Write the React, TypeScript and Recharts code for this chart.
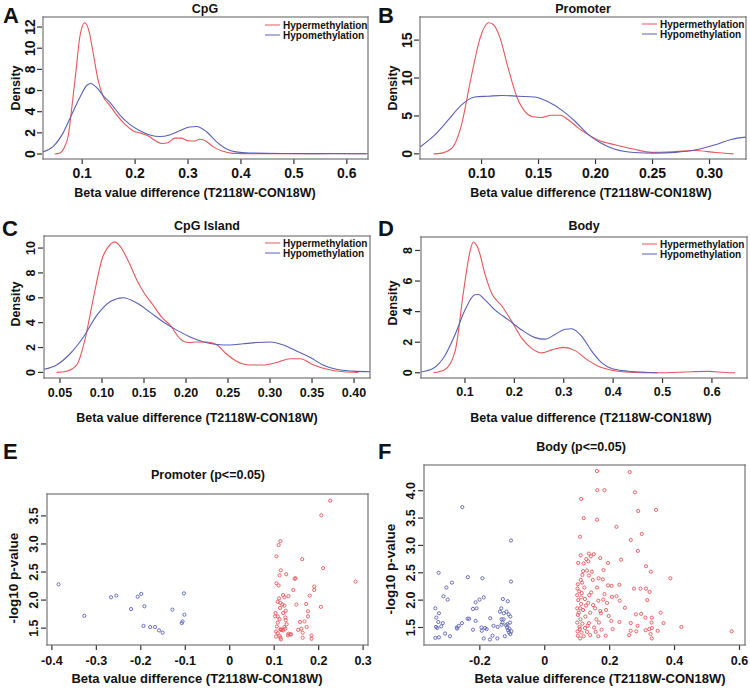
import React from "react";
import { LineChart, Line, ScatterChart, Scatter, XAxis, YAxis, Legend } from "recharts";

const FONT = "'Liberation Sans', Arial, Helvetica, sans-serif";
const RED = "#e5565b";
const BLUE = "#5a60b5";
const BOX = "#767676";
const TICK = "#333";
const INK = "#111";

// A - CpG density
const cpgHyperX = [0.048, 0.058, 0.066, 0.074, 0.080, 0.088, 0.096, 0.105, 0.113, 0.121, 0.130, 0.140, 0.152, 0.165, 0.181, 0.196, 0.212, 0.225, 0.237, 0.250, 0.262, 0.275, 0.287, 0.300, 0.313, 0.322, 0.331, 0.347, 0.363, 0.385, 0.448, 0.510, 0.574, 0.636];
const cpgHyperY = [0, 0.1, 0.6, 1.8, 4.2, 7.7, 11.2, 12.4, 11.6, 9.5, 7.0, 5.4, 4.6, 3.7, 2.8, 2.2, 1.95, 1.7, 1.3, 1.0, 1.07, 1.5, 1.5, 1.26, 1.23, 1.4, 1.3, 0.7, 0.3, 0.06, 0.02, 0.02, 0.05, 0.02];
const cpgHypoX = [0.026, 0.045, 0.064, 0.080, 0.096, 0.109, 0.116, 0.127, 0.140, 0.152, 0.171, 0.190, 0.209, 0.228, 0.247, 0.265, 0.284, 0.303, 0.316, 0.335, 0.353, 0.372, 0.391, 0.416, 0.479, 0.574, 0.640];
const cpgHypoY = [0.2, 0.7, 2.0, 3.7, 5.4, 6.5, 6.67, 6.3, 5.5, 4.9, 3.7, 2.8, 2.2, 1.8, 1.65, 1.8, 2.2, 2.55, 2.6, 2.1, 1.2, 0.5, 0.2, 0.1, 0.05, 0.03, 0.02];

// B - Promoter density
const promHyperX = [0.058, 0.065, 0.074, 0.082, 0.091, 0.099, 0.106, 0.110, 0.116, 0.123, 0.131, 0.138, 0.145, 0.153, 0.161, 0.169, 0.176, 0.185, 0.194, 0.202, 0.217, 0.234, 0.249, 0.270, 0.287, 0.305, 0.321];
const promHyperY = [0, 0.1, 0.75, 3.6, 10.2, 15.4, 17.3, 17.1, 15.4, 11.5, 7.5, 5.6, 4.9, 4.8, 5.1, 5.1, 4.5, 3.4, 2.5, 1.84, 1.2, 0.6, 0.2, 0.3, 0.44, 0.18, 0];
const promHypoX = [0.046, 0.059, 0.071, 0.082, 0.094, 0.106, 0.118, 0.132, 0.147, 0.158, 0.170, 0.182, 0.194, 0.205, 0.217, 0.234, 0.252, 0.270, 0.287, 0.305, 0.319, 0.332];
const promHypoY = [0.9, 2.5, 4.5, 6.4, 7.5, 7.6, 7.7, 7.6, 7.5, 6.9, 5.8, 4.3, 2.5, 1.4, 0.6, 0.18, 0.1, 0.2, 0.5, 1.2, 1.9, 2.2];

// C - CpG Island density
const islandHyperX = [0.046, 0.058, 0.070, 0.080, 0.090, 0.100, 0.110, 0.115, 0.121, 0.131, 0.141, 0.151, 0.161, 0.171, 0.181, 0.193, 0.203, 0.213, 0.225, 0.237, 0.248, 0.260, 0.276, 0.292, 0.308, 0.324, 0.336, 0.352, 0.367, 0.387, 0.405];
const islandHyperY = [0, 0.1, 0.6, 2.7, 6.05, 9.1, 10.3, 10.5, 10.2, 9.0, 7.5, 6.3, 5.4, 4.45, 3.8, 2.7, 2.4, 2.45, 2.45, 2.2, 1.5, 0.9, 0.6, 0.6, 0.8, 1.1, 1.1, 0.6, 0.27, 0.05, 0];
const islandHypoX = [0.031, 0.046, 0.062, 0.078, 0.094, 0.110, 0.125, 0.141, 0.157, 0.173, 0.189, 0.205, 0.221, 0.237, 0.252, 0.268, 0.284, 0.300, 0.316, 0.332, 0.348, 0.363, 0.379, 0.399, 0.419];
const islandHypoY = [0.25, 0.6, 1.5, 2.85, 4.6, 5.7, 6.0, 5.6, 4.85, 4.05, 3.4, 2.85, 2.45, 2.25, 2.2, 2.3, 2.4, 2.45, 2.2, 1.7, 1.2, 0.6, 0.25, 0.1, 0.05];

// D - Body density
const bodyHyperX = [0.036, 0.059, 0.080, 0.097, 0.110, 0.117, 0.127, 0.141, 0.154, 0.174, 0.195, 0.215, 0.235, 0.255, 0.276, 0.299, 0.323, 0.347, 0.370, 0.397, 0.431, 0.492, 0.559, 0.593, 0.627, 0.647];
const bodyHyperY = [0, 0.2, 1.4, 5.3, 7.9, 8.55, 8.1, 6.4, 5.2, 4.4, 3.35, 2.27, 1.6, 1.3, 1.5, 1.66, 1.45, 0.86, 0.43, 0.17, 0.04, 0, 0.07, 0.09, 0.02, 0];
const bodyHypoX = [0.010, 0.036, 0.059, 0.080, 0.100, 0.120, 0.127, 0.141, 0.161, 0.188, 0.215, 0.242, 0.262, 0.282, 0.303, 0.316, 0.336, 0.357, 0.377, 0.397, 0.431, 0.472, 0.490];
const bodyHypoY = [0.05, 0.3, 1.1, 2.5, 4.1, 5.1, 5.12, 4.75, 4.1, 3.46, 2.8, 2.3, 2.2, 2.5, 2.85, 2.88, 2.4, 1.4, 0.65, 0.28, 0.1, 0.02, 0];

// E - Promoter (p<=0.05) scatter
const promPHypoX = [-0.385, -0.327, -0.267, -0.255, -0.222, -0.207, -0.199, -0.192, -0.194, -0.179, -0.168, -0.159, -0.151, -0.129, -0.108, -0.106, -0.102, -0.103];
const promPHypoY = [2.28, 1.72, 2.05, 2.08, 1.84, 2.06, 2.11, 1.89, 1.54, 1.52, 1.52, 1.46, 1.42, 1.83, 1.59, 1.62, 1.74, 2.12];
const promPHyperX = [
  0.226, 0.206, 0.114, 0.110, 0.105, 0.163, 0.210, 0.115, 0.127, 0.112,
  0.146, 0.148, 0.283, 0.105, 0.110, 0.190, 0.190, 0.143, 0.120, 0.132,
  0.123, 0.180, 0.111, 0.108, 0.114, 0.172, 0.150, 0.118, 0.123, 0.205,
  0.113, 0.126, 0.176, 0.103, 0.120, 0.108, 0.102, 0.125, 0.176, 0.112,
  0.126, 0.158, 0.168, 0.108, 0.128, 0.106, 0.123, 0.173, 0.114, 0.115,
  0.120, 0.154, 0.161, 0.104, 0.108, 0.132, 0.131, 0.138, 0.164, 0.104,
  0.114, 0.115, 0.184, 0.184, 0.164, 0.112, 0.136, 0.125, 0.117,
];
const promPHyperY = [
  3.77, 3.51, 3.05, 2.98, 2.78, 2.73, 2.57, 2.53, 2.46, 2.44,
  2.38, 2.39, 2.33, 2.30, 2.26, 2.24, 2.18, 2.18, 2.09, 2.07,
  2.05, 2.08, 2.03, 1.97, 1.95, 1.93, 1.92, 1.92, 1.90, 1.88,
  1.86, 1.81, 1.80, 1.77, 1.77, 1.71, 1.71, 1.69, 1.71, 1.66,
  1.64, 1.61, 1.62, 1.60, 1.57, 1.53, 1.52, 1.52, 1.48, 1.47,
  1.46, 1.47, 1.49, 1.44, 1.41, 1.40, 1.37, 1.39, 1.42, 1.35,
  1.33, 1.30, 1.37, 1.31, 1.33, 1.36, 1.39, 1.49, 1.47,
];

// F - Body (p<=0.05) scatter
const bodyPHypoX = [
  -0.254, -0.104, -0.327, -0.237, -0.192, -0.104, -0.286, -0.303, -0.312, -0.299,
  -0.188, -0.201, -0.213, -0.129, -0.114, -0.337, -0.221, -0.210, -0.134, -0.138,
  -0.118, -0.326, -0.111, -0.106, -0.334, -0.238, -0.233, -0.168, -0.133, -0.127,
  -0.328, -0.314, -0.115, -0.107, -0.213, -0.255, -0.158, -0.133, -0.335, -0.331,
  -0.319, -0.265, -0.271, -0.195, -0.184, -0.179, -0.145, -0.119, -0.116, -0.109,
  -0.221, -0.194, -0.307, -0.292, -0.337, -0.326, -0.188, -0.169, -0.161, -0.146,
  -0.123, -0.110, -0.106, -0.103, -0.113, -0.270, -0.130, -0.126,
];
const bodyPHypoY = [
  3.70, 3.09, 2.50, 2.42, 2.40, 2.34, 2.32, 2.23, 2.07, 2.01,
  2.05, 2.01, 1.96, 2.02, 1.98, 1.85, 1.84, 1.85, 1.85, 1.79,
  1.79, 1.76, 1.74, 1.70, 1.68, 1.66, 1.66, 1.67, 1.65, 1.65,
  1.60, 1.58, 1.56, 1.59, 1.62, 1.58, 1.53, 1.55, 1.51, 1.49,
  1.52, 1.53, 1.50, 1.50, 1.49, 1.47, 1.51, 1.54, 1.50, 1.48,
  1.46, 1.44, 1.39, 1.34, 1.31, 1.32, 1.30, 1.28, 1.35, 1.30,
  1.34, 1.41, 1.38, 1.43, 1.45, 1.48, 1.59, 1.76,
];
const bodyPHyperX = [
  0.161, 0.262, 0.162, 0.184, 0.278, 0.112, 0.288, 0.120, 0.161, 0.221,
  0.299, 0.109, 0.265, 0.287, 0.111, 0.136, 0.151, 0.142, 0.171, 0.128,
  0.235, 0.103, 0.120, 0.134, 0.195, 0.312, 0.118, 0.130, 0.145, 0.181,
  0.116, 0.136, 0.166, 0.111, 0.148, 0.179, 0.115, 0.102, 0.195, 0.206,
  0.230, 0.101, 0.275, 0.295, 0.106, 0.114, 0.143, 0.100, 0.184, 0.207,
  0.221, 0.103, 0.124, 0.165, 0.180, 0.231, 0.112, 0.134, 0.149, 0.192,
  0.247, 0.100, 0.118, 0.171, 0.189, 0.140, 0.102, 0.125, 0.281, 0.297,
  0.110, 0.159, 0.205, 0.230, 0.100, 0.116, 0.136, 0.167, 0.265, 0.107,
  0.124, 0.152, 0.209, 0.286, 0.101, 0.113, 0.130, 0.157, 0.175, 0.265,
  0.282, 0.102, 0.120, 0.140, 0.165, 0.188, 0.260, 0.109, 0.105, 0.109,
  0.127, 0.155, 0.112, 0.108, 0.132, 0.173, 0.197, 0.137, 0.122, 0.161,
  0.343, 0.327, 0.387, 0.312, 0.323, 0.316, 0.357, 0.310, 0.330, 0.329,
  0.366, 0.421, 0.311, 0.322, 0.330, 0.348, 0.326, 0.330, 0.576,
];
const bodyPHyperY = [
  4.36, 4.34, 4.01, 4.01, 3.97, 3.85, 3.63, 3.50, 3.47, 3.34,
  3.21, 3.16, 3.10, 2.90, 2.82, 2.85, 2.84, 2.80, 2.77, 2.75,
  2.74, 2.68, 2.67, 2.71, 2.68, 2.62, 2.53, 2.54, 2.52, 2.55,
  2.46, 2.45, 2.40, 2.37, 2.37, 2.38, 2.32, 2.29, 2.27, 2.26,
  2.28, 2.21, 2.21, 2.21, 2.16, 2.13, 2.14, 2.09, 2.11, 2.06,
  2.07, 2.00, 2.02, 1.99, 2.01, 1.99, 1.93, 1.95, 1.91, 1.95,
  1.86, 1.85, 1.82, 1.80, 1.82, 1.77, 1.73, 1.70, 1.74, 1.75,
  1.65, 1.65, 1.62, 1.60, 1.59, 1.57, 1.58, 1.59, 1.58, 1.51,
  1.49, 1.50, 1.47, 1.53, 1.43, 1.41, 1.42, 1.42, 1.46, 1.44,
  1.43, 1.35, 1.34, 1.36, 1.34, 1.35, 1.36, 1.30, 1.77, 1.85,
  1.90, 1.85, 2.05, 1.47, 1.53, 1.76, 1.71, 2.09, 2.23, 2.23,
  3.65, 2.52, 2.40, 2.21, 2.15, 2.00, 1.77, 1.68, 1.68, 1.59,
  1.58, 1.51, 1.45, 1.47, 1.49, 1.44, 1.38, 1.30, 1.43,
];

type Pt = { x: number; y: number };
const zip = (xs: number[], ys: number[]): Pt[] => xs.map((x, i) => ({ x, y: ys[i] }));

const fmt0 = (v: number) => String(v);
const fmt1 = (v: number) => v.toFixed(1);
const fmt2 = (v: number) => v.toFixed(2);
const fmtSigned = (v: number) => (v === 0 ? "0" : v.toFixed(1));

// plot frames (left, top, right, bottom) in page pixels
const boxA = [43, 17, 368, 159];
const boxB = [420, 17, 746, 159];
const boxC = [44, 236, 370, 378];
const boxD = [421, 237, 747, 378];
const boxE = [47, 494, 368, 645];
const boxF = [424, 465, 745, 645];

// y tick: rotated label (R style) plus its tick mark
function YTick(props: any) {
  const { payload, size, fmt } = props;
  const x = Number(props.x);
  const y = Number(props.y);
  const cx = x - 5;
  return (
    <g>
      <rect x={x + 2} y={y - 0.6} width={5} height={1.2} fill={TICK} />
      <text x={cx} y={y} dy="0.36em" transform={`rotate(-90 ${cx} ${y})`} textAnchor="middle"
        fontSize={size} fontWeight={700} fontFamily={FONT} fill={INK}>
        {fmt(payload.value)}
      </text>
    </g>
  );
}

function XTick(props: any) {
  const { payload, size, fmt, margin } = props;
  const x = Number(props.x);
  const y = Number(props.y);
  const top = y - margin - 6;
  return (
    <g>
      <rect x={x - 0.6} y={top} width={1.2} height={5} fill={TICK} />
      <text x={x} y={y} dy="0.71em" textAnchor="middle" fontSize={size} fontWeight={700} fontFamily={FONT} fill={INK}>
        {fmt(payload.value)}
      </text>
    </g>
  );
}

function Ring(props: any) {
  const { cx, cy, color } = props;
  if (cx == null || cy == null) return null;
  return <circle cx={cx} cy={cy} r={1.6} fill="none" stroke={color} strokeWidth={0.9} />;
}

function LegendBox(props: any) {
  const items = props.payload || [];
  return (
    <svg width={112} height={22}>
      {items.map((it: any, i: number) => (
        <g key={it.value}>
          <line x1={0} x2={15} y1={5 + i * 10} y2={5 + i * 10} stroke={it.color} strokeWidth={1} />
          <text x={18} y={5 + i * 10} dy="0.35em" fontSize={10} fontWeight={700} fontFamily={FONT} fill={INK}>
            {it.value}
          </text>
        </g>
      ))}
    </svg>
  );
}

function axisBits(p: any) {
  const [L, T, W, H] = p.pos;
  const [bl, bt, br, bb] = p.box;
  return {
    L, T, W, H,
    margin: { top: bt - T, right: L + W - br, left: 0, bottom: 0 },
    yw: bl - L,
    xh: T + H - bb,
  };
}

function Axes(p: any, g: any) {
  return [
    <XAxis key="x" type="number" dataKey="x" domain={p.xDomain} ticks={p.xTicks} allowDataOverflow interval={0}
      height={g.xh} axisLine={false} tickLine={false} tickSize={6} tickMargin={p.tickMargin}
      tick={<XTick size={p.tickFont} fmt={p.xFmt} margin={p.tickMargin} />} />,
    <YAxis key="y" type="number" dataKey="y" domain={p.yDomain} ticks={p.yTicks} allowDataOverflow interval={0}
      width={g.yw} axisLine={false} tickLine={false} tickSize={6} tickMargin={2}
      tick={<YTick size={p.tickFont} fmt={p.yFmt} />} />,
  ];
}

function DensityPanel(p: any) {
  const g = axisBits(p);
  return (
    <div style={{ position: "absolute", left: g.L, top: g.T }}>
      <LineChart width={g.W} height={g.H} margin={g.margin}>
        {Axes(p, g)}
        <Line data={p.hyper} dataKey="y" name="Hypermethylation" type="monotone" stroke={RED} strokeWidth={1.1}
          dot={false} isAnimationActive={false} />
        <Line data={p.hypo} dataKey="y" name="Hypomethylation" type="monotone" stroke={BLUE} strokeWidth={1.1}
          dot={false} isAnimationActive={false} />
        <Legend layout="vertical" align="center" verticalAlign="middle" content={LegendBox}
          wrapperStyle={{ left: p.legend[0] - g.L, top: p.legend[1] - g.T, width: 112, height: 22 }} />
      </LineChart>
    </div>
  );
}

function ScatterPanel(p: any) {
  const g = axisBits(p);
  return (
    <div style={{ position: "absolute", left: g.L, top: g.T }}>
      <ScatterChart width={g.W} height={g.H} margin={g.margin}>
        {Axes(p, g)}
        <Scatter name="Hypomethylation" data={p.hypo} shape={<Ring color={BLUE} />} isAnimationActive={false} />
        <Scatter name="Hypermethylation" data={p.hyper} shape={<Ring color={RED} />} isAnimationActive={false} />
      </ScatterChart>
    </div>
  );
}

const densityTicks1 = [0.1, 0.2, 0.3, 0.4, 0.5, 0.6];

export default function App() {
  const txt = { fontFamily: FONT, fontWeight: 700, fill: INK } as const;
  const yTitle = (x: number, y: number, s: string, size: number) => (
    <text {...txt} x={x} y={y} dy="0.36em" fontSize={size} textAnchor="middle" transform={`rotate(-90 ${x} ${y})`}>{s}</text>
  );
  const frame = (b: number[], k: string) => {
    const w = 1.2;
    return (
      <g key={k} fill={BOX}>
        <rect x={b[0] - w / 2} y={b[1] - w / 2} width={b[2] - b[0] + w} height={w} />
        <rect x={b[0] - w / 2} y={b[3] - w / 2} width={b[2] - b[0] + w} height={w} />
        <rect x={b[0] - w / 2} y={b[1] - w / 2} width={w} height={b[3] - b[1] + w} />
        <rect x={b[2] - w / 2} y={b[1] - w / 2} width={w} height={b[3] - b[1] + w} />
      </g>
    );
  };
  const xTitle = "Beta value difference (T2118W-CON18W)";
  return (
    <div style={{ position: "absolute", left: 0, top: 0, width: 750, height: 690, background: "#fff", fontFamily: FONT }}>
      <DensityPanel pos={[0, 0, 372, 200]} box={boxA} xDomain={[0.026, 0.64]} yDomain={[-0.47, 12.95]}
        xTicks={densityTicks1} yTicks={[0, 2, 4, 6, 8, 10, 12]} xFmt={fmt1} yFmt={fmt0} tickFont={14} tickMargin={3}
        hyper={zip(cpgHyperX, cpgHyperY)} hypo={zip(cpgHypoX, cpgHypoY)} legend={[265, 20]} />
      <DensityPanel pos={[376, 0, 374, 200]} box={boxB} xDomain={[0.046, 0.332]} yDomain={[-0.68, 18.05]}
        xTicks={[0.1, 0.15, 0.2, 0.25, 0.3]} yTicks={[0, 5, 10, 15]} xFmt={fmt2} yFmt={fmt0} tickFont={14} tickMargin={3}
        hyper={zip(promHyperX, promHyperY)} hypo={zip(promHypoX, promHypoY)} legend={[642, 19]} />
      <DensityPanel pos={[0, 220, 374, 190]} box={boxC} xDomain={[0.031, 0.419]} yDomain={[-0.45, 10.97]}
        xTicks={[0.05, 0.1, 0.15, 0.2, 0.25, 0.3, 0.35, 0.4]} yTicks={[0, 2, 4, 6, 8, 10]} xFmt={fmt2} yFmt={fmt0}
        tickFont={12.5} tickMargin={4} hyper={zip(islandHyperX, islandHyperY)} hypo={zip(islandHypoX, islandHypoY)}
        legend={[265, 238]} />
      <DensityPanel pos={[376, 220, 374, 190]} box={boxD} xDomain={[0.011, 0.671]} yDomain={[-0.34, 8.88]}
        xTicks={densityTicks1} yTicks={[0, 2, 4, 6, 8]} xFmt={fmt1} yFmt={fmt0} tickFont={12.5} tickMargin={3}
        hyper={zip(bodyHyperX, bodyHyperY)} hypo={zip(bodyHypoX, bodyHypoY)} legend={[642, 239]} />
      <ScatterPanel pos={[0, 485, 372, 190]} box={boxE} xDomain={[-0.411, 0.311]} yDomain={[1.2, 3.89]}
        xTicks={[-0.4, -0.3, -0.2, -0.1, 0, 0.1, 0.2, 0.3]} yTicks={[1.5, 2, 2.5, 3, 3.5]} xFmt={fmtSigned} yFmt={fmt1}
        tickFont={12.5} tickMargin={5} hyper={zip(promPHyperX, promPHyperY)} hypo={zip(promPHypoX, promPHypoY)} />
      <ScatterPanel pos={[376, 455, 374, 220]} box={boxF} xDomain={[-0.372, 0.617]} yDomain={[1.18, 4.47]}
        xTicks={[-0.2, 0, 0.2, 0.4, 0.6]} yTicks={[1.5, 2, 2.5, 3, 3.5, 4]} xFmt={fmtSigned} yFmt={fmt1}
        tickFont={12.5} tickMargin={5} hyper={zip(bodyPHyperX, bodyPHyperY)} hypo={zip(bodyPHypoX, bodyPHypoY)} />

      <svg width={750} height={690} style={{ position: "absolute", left: 0, top: 0, pointerEvents: "none" }}>
        {[boxA, boxB, boxC, boxD, boxE, boxF].map((b, i) => frame(b, "f" + i))}
        <g {...txt} fontSize={22}>
          <text x={3} y={23}>A</text>
          <text x={378} y={23}>B</text>
          <text x={2} y={236}>C</text>
          <text x={378} y={236}>D</text>
          <text x={3} y={459}>E</text>
          <text x={378} y={459}>F</text>
        </g>
        <g {...txt} fontSize={12.5} textAnchor="middle">
          <text x={205} y={12.5}>CpG</text>
          <text x={583} y={12.5}>Promoter</text>
          <text x={207} y={230}>CpG Island</text>
          <text x={584} y={230}>Body</text>
          <text x={208} y={479}>Promoter (p&lt;=0.05)</text>
          <text x={581} y={451}>Body (p&lt;=0.05)</text>
          <text x={195} y={197}>{xTitle}</text>
          <text x={591} y={197}>{xTitle}</text>
          <text x={197} y={422}>{xTitle}</text>
          <text x={591} y={422}>{xTitle}</text>
          <text x={197} y={683} fontSize={13}>{xTitle}</text>
          <text x={600} y={683} fontSize={13}>{xTitle}</text>
        </g>
        {yTitle(15, 88, "Density", 12.5)}
        {yTitle(392, 88, "Density", 12.5)}
        {yTitle(15, 304, "Density", 12.5)}
        {yTitle(392, 303, "Density", 12.5)}
        {yTitle(13, 578, "-log10 p-value", 13.5)}
        {yTitle(390, 569, "-log10 p-value", 13.5)}
      </svg>
    </div>
  );
}
